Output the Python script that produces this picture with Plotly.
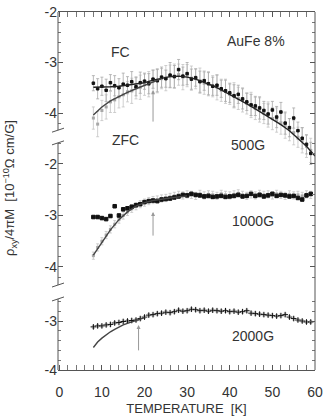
import plotly.graph_objects as go

FONT = "Liberation Sans, Arial, sans-serif"
TXT = "#333333"

# ---------------- data ----------------
T = [8, 9, 10, 11, 12, 13, 14, 15, 16, 17, 18, 19, 20, 21, 22, 23, 24, 25, 26, 27,
     28, 29, 30, 31, 32, 33, 34, 35, 36, 37, 38, 39, 40, 41, 42, 43, 44, 45, 46, 47,
     48, 49, 50, 51, 52, 53, 54, 55, 56, 57, 58, 59]

# 500 G panel
fc_500 = [-3.41, -3.52, -3.47, -3.55, -3.40, -3.46, -3.50, -3.43, -3.45, -3.38,
          -3.48, -3.40, -3.37, -3.42, -3.33, -3.36, -3.29, -3.32, -3.25, -3.28,
          -3.14, -3.27, -3.22, -3.33, -3.30, -3.38, -3.36, -3.42, -3.47, -3.45,
          -3.52, -3.56, -3.60, -3.66, -3.63, -3.72, -3.78, -3.84, -3.86, -3.90,
          -3.95, -4.02, -3.94, -4.08, -3.98, -4.20, -4.29, -4.10, -4.35, -4.50,
          -4.62, -4.80]
fc_500_err = [0.15, 0.20, 0.18, 0.22, 0.16, 0.20, 0.18, 0.22, 0.17, 0.20,
              0.18, 0.21, 0.16, 0.20, 0.18, 0.22, 0.20, 0.17, 0.25, 0.22,
              0.20, 0.18, 0.22, 0.20, 0.17, 0.21, 0.19, 0.22, 0.18, 0.20,
              0.17, 0.21, 0.19, 0.22, 0.18, 0.20, 0.17, 0.21, 0.19, 0.22,
              0.18, 0.20, 0.17, 0.21, 0.19, 0.22, 0.18, 0.20, 0.17, 0.21,
              0.19, 0.22]
zfc_500 = [-4.10, -4.22, -3.95, -3.88, -3.78, -3.74, -3.68, -3.64, -3.58, -3.56,
           -3.50, -3.49, -3.44, -3.43, -3.37, -3.36, -3.32, -3.31, -3.27, -3.27,
           -3.24, -3.29, -3.26, -3.31, -3.32, -3.36, -3.41, -3.42, -3.47, -3.49,
           -3.55, -3.57, -3.63, -3.65, -3.71, -3.74, -3.81, -3.84, -3.91, -3.94,
           -4.01, -4.03, -4.11, -4.14, -4.21, -4.25, -4.33, -4.39, -4.48, -4.54,
           -4.66, -4.74]
zfc_500_err = [0.22, 0.25, 0.20, 0.24, 0.21, 0.25, 0.22, 0.24, 0.20, 0.25,
               0.22, 0.24, 0.21, 0.25, 0.22, 0.24, 0.20, 0.25, 0.22, 0.24,
               0.21, 0.25, 0.22, 0.24, 0.20, 0.25, 0.22, 0.24, 0.21, 0.25,
               0.22, 0.24, 0.20, 0.25, 0.22, 0.24, 0.21, 0.25, 0.22, 0.24,
               0.20, 0.25, 0.22, 0.24, 0.21, 0.25, 0.22, 0.24, 0.20, 0.25,
               0.22, 0.24]
fit_T_fc_500 = [8, 10, 12, 14, 16, 18, 20, 22, 24, 26, 28, 30, 32, 34, 36, 38, 40,
                42, 44, 46, 48, 50, 52, 54, 56, 58, 60]
fit_fc_500 = [-3.49, -3.49, -3.48, -3.47, -3.45, -3.43, -3.40, -3.35, -3.31, -3.28,
              -3.27, -3.29, -3.33, -3.39, -3.46, -3.54, -3.63, -3.72, -3.82, -3.92,
              -4.02, -4.12, -4.23, -4.35, -4.50, -4.66, -4.85]
fit_T_zfc_500 = [8, 10, 12, 14, 16, 18, 20, 22, 24]
fit_zfc_500 = [-4.04, -3.88, -3.76, -3.67, -3.59, -3.52, -3.45, -3.38, -3.32]

# 1000 G panel
fc_1000 = [-3.03, -3.03, -3.05, -3.07, -3.01, -2.82, -3.00, -2.88, -2.86, -2.83,
           -2.80, -2.78, -2.74, -2.72, -2.71, -2.72, -2.69, -2.68, -2.67, -2.65,
           -2.63, -2.60, -2.61, -2.58, -2.60, -2.61, -2.63, -2.62, -2.64, -2.63,
           -2.62, -2.64, -2.63, -2.62, -2.60, -2.63, -2.62, -2.58, -2.62, -2.60,
           -2.63, -2.61, -2.58, -2.62, -2.60, -2.61, -2.63, -2.62, -2.66, -2.69,
           -2.61, -2.58]
zfc_1000 = [-3.78, -3.62, -3.50, -3.38, -3.27, -3.17, -3.08, -3.00, -2.93, -2.87,
            -2.82, -2.78, -2.75, -2.72, -2.70, -2.69, -2.67, -2.66, -2.64, -2.62,
            -2.60, -2.61, -2.59, -2.60, -2.62, -2.58, -2.61, -2.59, -2.60, -2.62,
            -2.58, -2.60, -2.61, -2.59, -2.57, -2.60, -2.62, -2.59, -2.61, -2.58,
            -2.60, -2.59, -2.61, -2.58, -2.60, -2.62, -2.59, -2.61, -2.60, -2.62,
            -2.59, -2.60]
fit_T_zfc_1000 = [8, 10, 12, 14, 16, 18, 20, 22, 24, 26, 28, 30]
fit_zfc_1000 = [-3.77, -3.52, -3.28, -3.08, -2.93, -2.82, -2.75, -2.71, -2.68,
                -2.66, -2.64, -2.62]

# 2000 G panel
fc_2000 = [-3.12, -3.10, -3.10, -3.08, -3.07, -3.04, -3.03, -3.01, -3.00, -2.99,
           -2.98, -2.95, -2.92, -2.88, -2.87, -2.85, -2.84, -2.82, -2.83, -2.81,
           -2.78, -2.80, -2.79, -2.76, -2.77, -2.79, -2.78, -2.80, -2.78, -2.79,
           -2.80, -2.79, -2.81, -2.80, -2.82, -2.81, -2.79, -2.84, -2.85, -2.86,
           -2.87, -2.88, -2.89, -2.90, -2.89, -2.87, -2.92, -2.95, -2.98, -3.00,
           -3.02, -3.02]
fit_T_zfc_2000 = [8, 9, 10, 11, 12, 13, 14, 15, 16, 17, 18, 19, 20]
fit_zfc_2000 = [-3.54, -3.43, -3.35, -3.28, -3.22, -3.17, -3.12, -3.08, -3.05,
                -3.02, -2.99, -2.96, -2.93]

# arrows (T, head value, tail value)
arrow_500 = (22.0, -3.55, -4.20)
arrow_1000 = (22.0, -2.93, -3.42)
arrow_2000 = (18.6, -3.08, -3.63)

# axis tick values
major_500 = [-2, -3, -4]
major_1000 = [-2, -3, -4]
major_2000 = [-3, -4]
x_major = [0, 10, 20, 30, 40, 50, 60]

# ---------------- figure ----------------
fig = go.Figure()

def add_panel(yref, fc, fc_err, zfc, zfc_err, fitT_fc, fit_fc, fitT_zfc, fit_zfc,
              fc_size=4, fc_symbol="square"):
    if zfc is not None:
        fig.add_trace(go.Scatter(
            x=T, y=zfc, yaxis=yref, mode="markers",
            marker=dict(symbol="square", size=3, color="#a8a8a8"),
            error_y=dict(type="data", array=zfc_err, color="#c4c4c4",
                         thickness=0.8, width=1.5),
            showlegend=False))
    fig.add_trace(go.Scatter(
        x=T, y=fc, yaxis=yref, mode="markers",
        marker=dict(symbol=fc_symbol, size=fc_size, color="#111111",
                    line=dict(width=1, color="#111111")),
        error_y=dict(type="data", array=fc_err, color="#a8a8a8",
                     thickness=0.8, width=1.5),
        showlegend=False))
    if fitT_fc is not None:
        fig.add_trace(go.Scatter(x=fitT_fc, y=fit_fc, yaxis=yref, mode="lines",
                                 line=dict(color="#222222", width=1.4),
                                 showlegend=False))
    if fitT_zfc is not None:
        fig.add_trace(go.Scatter(x=fitT_zfc, y=fit_zfc, yaxis=yref, mode="lines",
                                 line=dict(color="#444444", width=1.4),
                                 showlegend=False))

add_panel("y3", fc_500, fc_500_err, zfc_500, zfc_500_err,
          fit_T_fc_500, fit_fc_500, fit_T_zfc_500, fit_zfc_500, fc_size=2.5)
add_panel("y2", fc_1000, [0.03] * len(T), zfc_1000, [0.07] * len(T),
          None, None, fit_T_zfc_1000, fit_zfc_1000, fc_size=3.5)
add_panel("y", fc_2000, [0.03] * len(T), None, None,
          None, None, fit_T_zfc_2000, fit_zfc_2000, fc_size=4,
          fc_symbol="cross-thin")

def minor_vals(lo, hi):
    vals = []
    v = lo
    while v <= hi + 1e-9:
        vals.append(round(v, 2))
        v += 0.2
    return vals

def yax(rng, major, minor, overlay=None):
    d = dict(range=rng, showgrid=False, zeroline=False, showline=False,
             automargin=False,
             ticks="inside", ticklen=5, tickwidth=1, tickcolor="#555",
             mirror="ticks", tickmode="array", tickvals=major,
             ticktext=[str(v) for v in major],
             tickfont=dict(family=FONT, size=14, color=TXT),
             minor=dict(tickmode="array", tickvals=minor, ticks="inside",
                        ticklen=3, tickcolor="#777"),
             fixedrange=True)
    if overlay:
        d["overlaying"] = overlay
    return d

fig.update_layout(
    width=326, height=418,
    margin=dict(l=58, r=11, t=12, b=48, autoexpand=False),
    paper_bgcolor="white", plot_bgcolor="white",
    showlegend=False,
    xaxis=dict(range=[-0.3, 60], showgrid=False, zeroline=False, showline=True,
               automargin=False,
               linecolor="#555", linewidth=1, mirror="allticks",
               ticks="inside", ticklen=5, tickcolor="#555",
               tickvals=x_major, ticktext=[str(v) for v in x_major],
               tickfont=dict(family=FONT, size=14, color=TXT),
               ticklabelstandoff=9,
               minor=dict(dtick=2, tick0=0, ticks="inside", ticklen=3,
                          tickcolor="#777"),
               title=dict(text="TEMPERATURE  [K]", standoff=5,
                          font=dict(family=FONT, size=13, color=TXT))),
    yaxis=yax([-4, 3.306], major_2000, minor_vals(-4, -2.6)),
    yaxis2=yax([-6.0, 0.951], major_1000, minor_vals(-4.2, -1.6), overlay="y"),
    yaxis3=yax([-9.089, -2], major_500, minor_vals(-4.2, -2), overlay="y"),
)

# frame: right border + broken left axis
fig.add_shape(type="line", xref="paper", yref="paper", x0=1, x1=1, y0=0, y1=1,
              line=dict(color="#555", width=1))
segments = [("y3", -2, -4.34), ("y2", -1.59, -4.35), ("y", -2.55, -4)]
for yr, top, bot in segments:
    fig.add_shape(type="line", xref="paper", yref=yr, x0=0, x1=0, y0=top, y1=bot,
                  line=dict(color="#555", width=1))
breaks = [("y3", -4.34), ("y2", -1.59), ("y2", -4.35), ("y", -2.55)]
for yr, v in breaks:
    fig.add_shape(type="line", xref="paper", yref=yr, xsizemode="pixel", xanchor=0,
                  x0=-6, x1=6, ysizemode="pixel", yanchor=v, y0=-2, y1=2,
                  line=dict(color="#555", width=1))

# arrows
for yr, (t, head, tail) in [("y3", arrow_500), ("y2", arrow_1000), ("y", arrow_2000)]:
    fig.add_annotation(x=t, y=head, xref="x", yref=yr, ax=t, ay=tail,
                       axref="x", ayref=yr, showarrow=True, arrowhead=2,
                       arrowsize=0.8, arrowwidth=1, arrowcolor="#999", text="")

# labels
labels = [("FC", 120, 52), ("ZFC", 125, 140), ("AuFe 8%", 256, 41),
          ("500G", 248, 145), ("1000G", 253, 221), ("2000G", 253, 336)]
for txt, px, py in labels:
    fig.add_annotation(text=txt, xref="paper", yref="paper",
                       x=(px - 58) / 257, y=(370 - py) / 358,
                       showarrow=False, xanchor="center", yanchor="middle",
                       font=dict(family=FONT, size=14, color=TXT))

fig.add_annotation(text="ρ<sub>xy</sub>/4πM  [10<sup>−10</sup>Ω cm/G]",
                   xref="paper", yref="paper", x=(10 - 58) / 257, y=(370 - 188) / 358,
                   textangle=-90, showarrow=False, xanchor="center", yanchor="middle",
                   font=dict(family=FONT, size=13, color=TXT))

fig.write_html("out.html")
